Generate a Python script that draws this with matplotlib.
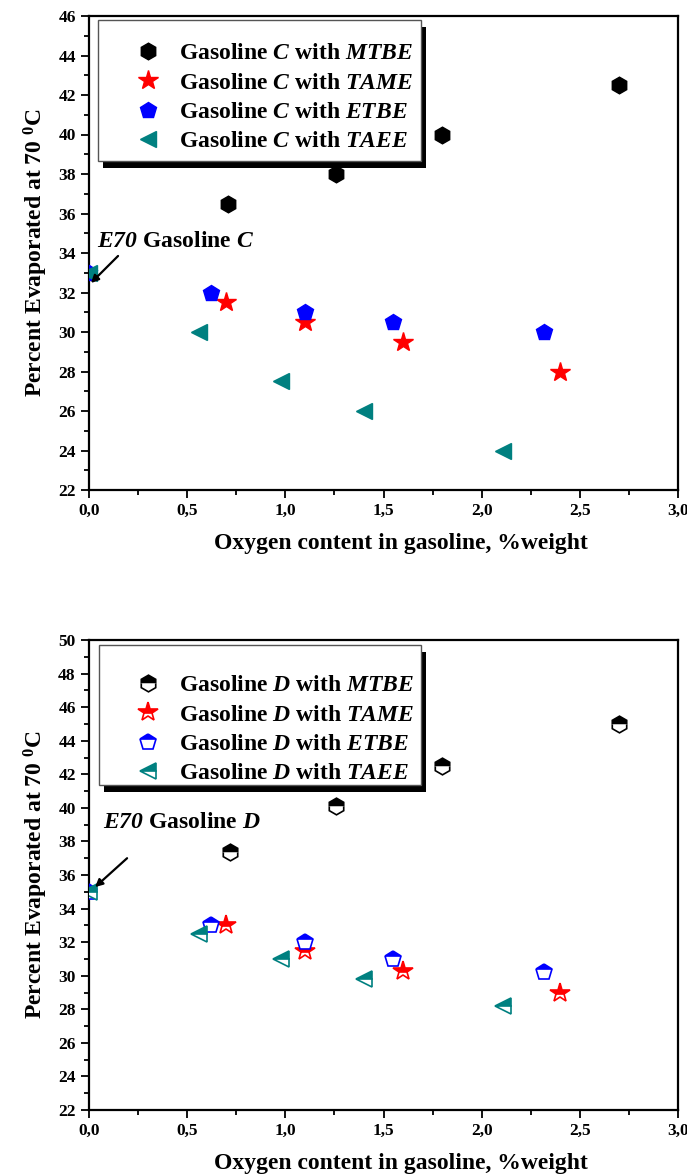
import matplotlib
matplotlib.use("Agg")
import matplotlib.pyplot as plt
from matplotlib.patches import Rectangle
from matplotlib.ticker import MultipleLocator, FuncFormatter

plt.rcParams['font.family'] = 'Liberation Serif'
plt.rcParams['font.weight'] = 'bold'
plt.rcParams['mathtext.fontset'] = 'custom'
plt.rcParams['mathtext.rm'] = 'Liberation Serif:bold'
plt.rcParams['mathtext.it'] = 'Liberation Serif:bold:italic'
plt.rcParams['mathtext.sf'] = 'Liberation Serif:bold:italic'
plt.rcParams['mathtext.bf'] = 'Liberation Serif:bold'

# ---- data, gasoline C ----
c_mtbe_x = [0.71, 1.26, 1.80, 2.70]
c_mtbe_y = [36.5, 38.0, 40.0, 42.5]
c_tame_x = [0.70, 1.10, 1.60, 2.40]
c_tame_y = [31.5, 30.5, 29.5, 28.0]
c_etbe_x = [0.0, 0.62, 1.10, 1.55, 2.32]
c_etbe_y = [33.0, 32.0, 31.0, 30.5, 30.0]
c_taee_x = [0.0, 0.56, 0.98, 1.40, 2.11]
c_taee_y = [33.0, 30.0, 27.5, 26.0, 24.0]

# ---- data, gasoline D ----
d_mtbe_x = [0.72, 1.26, 1.80, 2.70]
d_mtbe_y = [37.4, 40.1, 42.5, 45.0]
d_tame_x = [0.70, 1.10, 1.60, 2.40]
d_tame_y = [33.0, 31.5, 30.3, 29.0]
d_etbe_x = [0.0, 0.62, 1.10, 1.55, 2.32]
d_etbe_y = [35.0, 33.0, 32.0, 31.0, 30.2]
d_taee_x = [0.0, 0.56, 0.98, 1.40, 2.11]
d_taee_y = [35.0, 32.5, 31.0, 29.8, 28.2]

oxygenates = ['MTBE', 'TAME', 'ETBE', 'TAEE']
markers = ['h', '*', 'p', '<']
colors = ['black', 'red', 'blue', '#008080']
msizes = [12, 15, 12, 12]

W, H = 687, 1176
comma = FuncFormatter(lambda v, p: ('%.1f' % v).replace('.', ','))


def style_axes(ax, ymin, ymax):
    ax.set_xlim(0, 3.0)
    ax.set_ylim(ymin, ymax)
    ax.xaxis.set_major_locator(MultipleLocator(0.5))
    ax.xaxis.set_minor_locator(MultipleLocator(0.25))
    ax.yaxis.set_major_locator(MultipleLocator(2))
    ax.yaxis.set_minor_locator(MultipleLocator(1))
    ax.xaxis.set_major_formatter(comma)
    ax.tick_params(which='both', direction='out', top=False, right=False,
                   labelsize=12.5, width=1.3)
    ax.tick_params(which='major', length=6)
    ax.tick_params(which='minor', length=3.5)
    for s in ax.spines.values():
        s.set_linewidth(1.6)
    ax.set_xlabel('Oxygen content in gasoline, %weight', fontsize=17,
                  fontweight='bold', labelpad=10)
    ax.xaxis.label.set_x((401 - 89) / 589)
    ax.set_ylabel(r'Percent Evaporated at 70 $^{0}$C', fontsize=17,
                  fontweight='bold', labelpad=6)


def legend_box(ax, px0, py0, px1, py1, rows_center, ax_top, ax_h):
    # frame and shadow drawn by hand, pixel positions -> axes fraction
    def fx(px):
        return (px - 89) / 589

    def fy(py):
        return (ax_top - py) / ax_h

    shadow = Rectangle((fx(px0 + 5), fy(py1 + 7)), fx(px1) - fx(px0),
                       fy(py0) - fy(py1), transform=ax.transAxes,
                       facecolor='black', edgecolor='none', zorder=4,
                       clip_on=False)
    frame = Rectangle((fx(px0), fy(py1)), fx(px1) - fx(px0), fy(py0) - fy(py1),
                      transform=ax.transAxes, facecolor='white',
                      edgecolor='#555555', linewidth=1.0, zorder=4.1,
                      clip_on=False)
    ax.add_patch(shadow)
    ax.add_patch(frame)
    leg = ax.legend(loc='center left', bbox_to_anchor=(fx(131.5), fy(rows_center)),
                    fontsize=17, frameon=False, borderpad=0, borderaxespad=0,
                    handlelength=1.4, handletextpad=0.62, labelspacing=0.33)
    leg.set_zorder(5)


fig = plt.figure(figsize=(W / 100, H / 100), dpi=100)
ax1 = fig.add_axes([89 / W, 1 - 490 / H, 589 / W, 474 / H])
ax2 = fig.add_axes([89 / W, 1 - 1110 / H, 589 / W, 470 / H])

# top panel, filled markers
c_data = [(c_mtbe_x, c_mtbe_y), (c_tame_x, c_tame_y),
          (c_etbe_x, c_etbe_y), (c_taee_x, c_taee_y)]
for (x, y), name, m, c, ms in zip(c_data, oxygenates, markers, colors, msizes):
    ax1.plot(x, y, linestyle='none', marker=m, color=c, markersize=ms,
             markeredgecolor=c,
             label=r'Gasoline $\mathsf{C}$ with $\mathsf{%s}$' % name, zorder=3)
style_axes(ax1, 22, 46)
legend_box(ax1, 98, 20, 421, 161, 97.5, 490, 474)
ax1.text(0.041, 34.6, r'$\mathsf{E70}$ Gasoline $\mathsf{C}$', fontsize=17,
         fontweight='bold', va='center', ha='left')
ax1.annotate('', xy=(0.01, 32.48), xytext=(0.148, 33.85),
             arrowprops=dict(arrowstyle='-|>', color='black', lw=1.6,
                             shrinkA=0, shrinkB=0, mutation_scale=11))

# bottom panel, half filled markers
d_data = [(d_mtbe_x, d_mtbe_y), (d_tame_x, d_tame_y),
          (d_etbe_x, d_etbe_y), (d_taee_x, d_taee_y)]
for (x, y), name, m, c, ms in zip(d_data, oxygenates, markers, colors, msizes):
    ax2.plot(x, y, linestyle='none', marker=m, color=c, markersize=ms,
             markeredgecolor=c, fillstyle='top', markerfacecoloralt='white',
             markeredgewidth=1.2,
             label=r'Gasoline $\mathsf{D}$ with $\mathsf{%s}$' % name, zorder=3)
style_axes(ax2, 22, 50)
legend_box(ax2, 99, 645, 421, 785, 729.5, 1110, 470)
ax2.text(0.071, 39.15, r'$\mathsf{E70}$ Gasoline $\mathsf{D}$', fontsize=17,
         fontweight='bold', va='center', ha='left')
ax2.annotate('', xy=(0.031, 35.28), xytext=(0.194, 37.0),
             arrowprops=dict(arrowstyle='-|>', color='black', lw=1.6,
                             shrinkA=0, shrinkB=0, mutation_scale=11))

fig.savefig('out.png', dpi=100)
